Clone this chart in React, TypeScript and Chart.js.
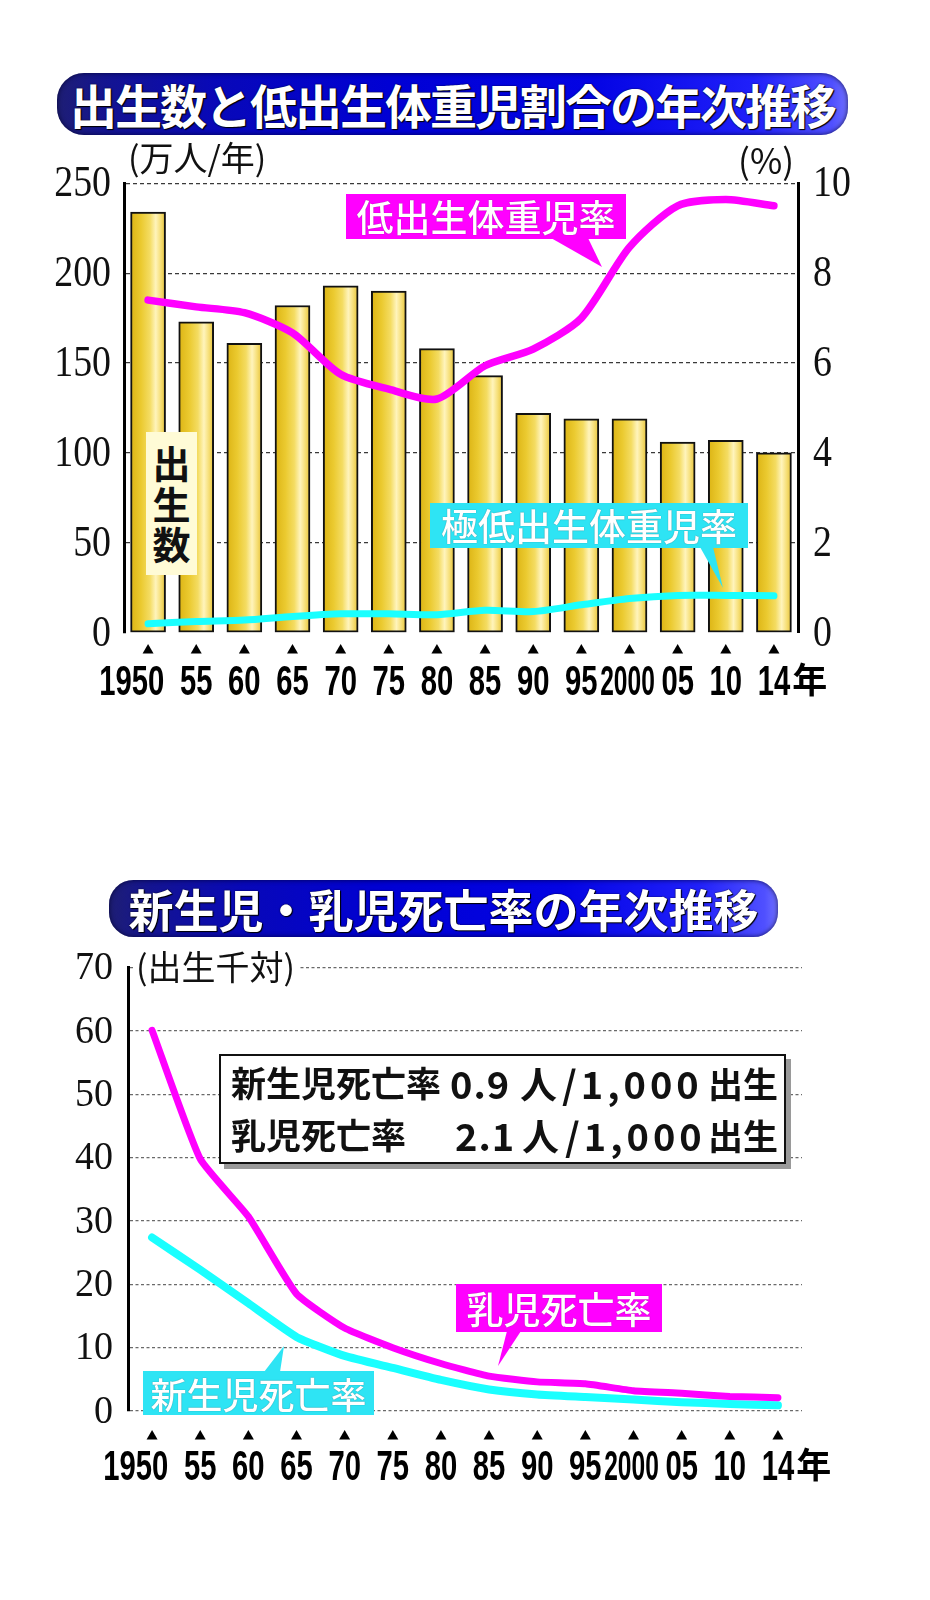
import React, { useEffect, useRef } from 'react';
import { Chart, registerables } from 'chart.js';

Chart.register(...registerables);

// ---------- data ----------
const YEAR_LABELS = ['1950', '55', '60', '65', '70', '75', '80', '85', '90', '95', '2000', '05', '10', '14'];
const YEAR_SUFFIX = '年';

// chart 1: births (10k/yr) and low birth weight rates (%)
const BIRTHS = [234, 173, 161, 182, 193, 190, 158, 143, 122, 119, 119, 106, 107, 100];
const LBW_RATE = [7.4, 7.25, 7.12, 6.67, 5.75, 5.42, 5.2, 5.94, 6.31, 7.0, 8.58, 9.5, 9.64, 9.5];
const VLBW_RATE = [0.2, 0.25, 0.28, 0.36, 0.42, 0.42, 0.4, 0.5, 0.47, 0.62, 0.76, 0.83, 0.83, 0.82];
const BIRTH_TICKS = [0, 50, 100, 150, 200, 250];
const RATE_TICKS = [0, 2, 4, 6, 8, 10];

// chart 2: neonatal / infant mortality (per 1,000 births)
const INFANT_MORTALITY = [60.1, 39.8, 30.7, 18.5, 13.1, 10.0, 7.5, 5.5, 4.6, 4.3, 3.2, 2.8, 2.3, 2.1];
const NEONATAL_MORTALITY = [27.4, 22.3, 17.0, 11.7, 8.7, 6.8, 4.9, 3.4, 2.6, 2.2, 1.8, 1.4, 1.1, 0.9];
const MORTALITY_TICKS = [0, 10, 20, 30, 40, 50, 60, 70];

// ---------- styles ----------
const CJK = '"Noto Sans CJK JP", "Noto Sans CJK SC", sans-serif';
const MAGENTA = '#ff00ff';
const CYAN_LINE = '#1affff';
const CYAN_BOX = '#2ee4f4';
const BAR_W = 35;

function drawScaledText(ctx: CanvasRenderingContext2D, text: string, x: number, y: number, sx: number, align: CanvasTextAlign) {
  ctx.save();
  ctx.translate(x, y);
  ctx.scale(sx, 1);
  ctx.textAlign = align;
  ctx.fillText(text, 0, 0);
  ctx.restore();
}

function yearLabelsPlugin(triangleY: number, labelY: number) {
  return {
    id: 'yearLabels',
    afterDraw(chart: any) {
      const ctx: CanvasRenderingContext2D = chart.ctx;
      const xs = chart.scales.x;
      const labels: string[] = chart.data.labels;
      const fs = 43;
      const sx = 0.68;
      ctx.save();
      ctx.fillStyle = '#000';
      labels.forEach((lab, i) => {
        const x = xs.getPixelForValue(i);
        ctx.beginPath();
        ctx.moveTo(x, triangleY - 5);
        ctx.lineTo(x + 5.5, triangleY + 4.5);
        ctx.lineTo(x - 5.5, triangleY + 4.5);
        ctx.closePath();
        ctx.fill();

        ctx.font = `bold ${fs}px "Liberation Sans", Arial, sans-serif`;
        ctx.textBaseline = 'alphabetic';
        const base = labelY + fs * 0.358;
        if (lab.length === 4 && i === 0) {
          const tail = lab.slice(2);
          const wTail = ctx.measureText(tail).width * sx;
          const wAll = ctx.measureText(lab).width * sx;
          drawScaledText(ctx, lab, x - wTail / 2 - (wAll - wTail), base, sx, 'left');
        } else if (lab.length === 4) {
          drawScaledText(ctx, lab, x - 2, base, 0.57, 'center');
        } else {
          drawScaledText(ctx, lab, x, base, sx, 'center');
          if (i === labels.length - 1) {
            const w = ctx.measureText(lab).width * sx;
            ctx.font = `bold 35px ${CJK}`;
            ctx.textAlign = 'left';
            ctx.fillText(YEAR_SUFFIX, x + w / 2 + 2, labelY + 13);
          }
        }
      });
      ctx.restore();
    },
  };
}

type TickSpec = { scaleId: string; ticks: number[]; x: number; align: CanvasTextAlign; fs: number; sx: number; dy: number };

function tickLabelsPlugin(specs: TickSpec[]) {
  return {
    id: 'tickLabels',
    afterDraw(chart: any) {
      const ctx: CanvasRenderingContext2D = chart.ctx;
      ctx.save();
      ctx.fillStyle = '#111';
      ctx.textBaseline = 'alphabetic';
      specs.forEach((s) => {
        const scale = chart.scales[s.scaleId];
        ctx.font = `${s.fs}px "Liberation Serif", "Times New Roman", serif`;
        s.ticks.forEach((v) => {
          const y = scale.getPixelForValue(v) + s.dy + s.fs * 0.338;
          drawScaledText(ctx, String(v), s.x, y, s.sx, s.align);
        });
      });
      ctx.restore();
    },
  };
}

function barGradient(c: any) {
  const chart = c.chart;
  if (!chart.chartArea || c.type !== 'data') return '#efcf3a';
  const x = chart.scales.x.getPixelForValue(c.dataIndex);
  const g = chart.ctx.createLinearGradient(x - BAR_W / 2, 0, x + BAR_W / 2, 0);
  g.addColorStop(0, '#dcb414');
  g.addColorStop(0.3, '#ebca30');
  g.addColorStop(0.55, '#f4dc62');
  g.addColorStop(0.72, '#fff4bc');
  g.addColorStop(0.86, '#f6df78');
  g.addColorStop(1, '#e6c236');
  return g;
}

function birthsConfig(): any {
  return {
    data: {
      labels: YEAR_LABELS,
      datasets: [
        {
          type: 'line', label: '低出生体重児率', data: LBW_RATE, yAxisID: 'y1', order: 1,
          borderColor: MAGENTA, borderWidth: 7.5, pointRadius: 0, tension: 0.25,
          borderCapStyle: 'round', borderJoinStyle: 'round', fill: false,
        },
        {
          type: 'line', label: '極低出生体重児率', data: VLBW_RATE, yAxisID: 'y1', order: 2,
          borderColor: CYAN_LINE, borderWidth: 7, pointRadius: 0, tension: 0.25,
          borderCapStyle: 'round', borderJoinStyle: 'round', fill: false,
        },
        {
          type: 'bar', label: '出生数', data: BIRTHS, yAxisID: 'y', order: 3,
          backgroundColor: barGradient, borderColor: '#111', borderWidth: 2,
          borderSkipped: false, barThickness: BAR_W,
        },
      ],
    },
    options: {
      responsive: false, animation: false, devicePixelRatio: 1, events: [],
      layout: { padding: { top: 43.3, left: 0, right: 0, bottom: 0 } },
      plugins: { legend: { display: false }, tooltip: { enabled: false } },
      scales: {
        x: {
          type: 'category', offset: true,
          grid: { display: false }, border: { display: false }, ticks: { display: false },
          afterFit(s: any) { s.height = 77.3; },
        },
        y: {
          min: 0, max: 250, position: 'left',
          ticks: { display: false, stepSize: 50 },
          grid: { color: (c: any) => (c.tick && c.tick.value === 0 ? 'rgba(0,0,0,0)' : '#3a3a3a'), lineWidth: 1.3, drawTicks: false },
          border: { display: true, width: 3, color: '#000', dash: [4, 3] },
          afterFit(s: any) { s.width = 124; },
        },
        y1: {
          min: 0, max: 10, position: 'right',
          ticks: { display: false, stepSize: 2 },
          grid: { display: false, drawTicks: false },
          border: { display: true, width: 3, color: '#000' },
          afterFit(s: any) { s.width = 132; },
        },
      },
    },
    plugins: [
      tickLabelsPlugin([
        { scaleId: 'y', ticks: BIRTH_TICKS, x: 111, align: 'right', fs: 44, sx: 0.86, dy: -2 },
        { scaleId: 'y1', ticks: RATE_TICKS, x: 813, align: 'left', fs: 44, sx: 0.86, dy: -2 },
      ]),
      yearLabelsPlugin(509, 540),
    ],
  };
}

function mortalityConfig(): any {
  return {
    type: 'line',
    data: {
      labels: YEAR_LABELS,
      datasets: [
        {
          label: '乳児死亡率', data: INFANT_MORTALITY, order: 1,
          borderColor: MAGENTA, borderWidth: 7, pointRadius: 0, tension: 0.15,
          borderCapStyle: 'round', borderJoinStyle: 'round', fill: false,
        },
        {
          label: '新生児死亡率', data: NEONATAL_MORTALITY, order: 2,
          borderColor: CYAN_LINE, borderWidth: 8, pointRadius: 0, tension: 0.15,
          borderCapStyle: 'round', borderJoinStyle: 'round', fill: false,
        },
      ],
    },
    options: {
      responsive: false, animation: false, devicePixelRatio: 1, events: [],
      layout: { padding: { top: 27.7, left: 0, right: 128, bottom: 0 } },
      plugins: { legend: { display: false }, tooltip: { enabled: false } },
      scales: {
        x: {
          type: 'category', offset: true,
          grid: { display: false }, border: { display: false }, ticks: { display: false },
          afterFit(s: any) { s.height = 89; },
        },
        y: {
          min: 0, max: 70,
          ticks: { display: false, stepSize: 10 },
          grid: { color: '#6a6a6a', lineWidth: 1.2, drawTicks: false },
          border: { display: true, width: 3, color: '#000', dash: [3, 2.5] },
          afterFit(s: any) { s.width = 128; },
        },
      },
    },
    plugins: [
      tickLabelsPlugin([
        { scaleId: 'y', ticks: MORTALITY_TICKS, x: 113, align: 'right', fs: 40, sx: 0.95, dy: -2 },
      ]),
      yearLabelsPlugin(495, 525),
    ],
  };
}

function ChartCanvas({ makeConfig, top, height }: { makeConfig: () => any; top: number; height: number }) {
  const ref = useRef<HTMLCanvasElement | null>(null);
  useEffect(() => {
    if (!ref.current) return;
    const chart = new Chart(ref.current, makeConfig());
    return () => chart.destroy();
  }, []);
  return (
    <canvas
      ref={ref}
      width={930}
      height={height}
      style={{ position: 'absolute', left: 0, top, width: 930, height }}
    />
  );
}

const abs = (left: number, top: number, extra: React.CSSProperties = {}): React.CSSProperties => ({
  position: 'absolute', left, top, ...extra,
});

const titleBg =
  'linear-gradient(90deg, #1e1e74 0%, #141490 6%, #0808b8 20%, #0000d4 42%, #0404e4 68%, #2020fa 88%, #5050ff 98%, #7070ff 100%)';

function TitleBar({ left, top, width, height, fs, spacing, text }: { left: number; top: number; width: number; height: number; fs: number; spacing: number; text: string }) {
  return (
    <div
      style={abs(left, top, {
        width, height, borderRadius: height / 2 - 4, background: titleBg,
        boxShadow: 'inset 0 0 5px rgba(0,0,40,0.8)',
        color: '#fff', fontFamily: CJK, fontWeight: 700, fontSize: fs, letterSpacing: spacing,
        lineHeight: `${height}px`, textAlign: 'center', whiteSpace: 'nowrap',
        textShadow: '0 0 1.5px #000, 1px 1px 1px #000',
      })}
    >
      {text}
    </div>
  );
}

function LabelBox({ left, top, width, height, fs, bg, text }: { left: number; top: number; width: number; height: number; fs: number; bg: string; text: string }) {
  return (
    <div
      style={abs(left, top, {
        width, height, background: bg, color: '#fff', fontFamily: CJK, fontWeight: 500,
        fontSize: fs, lineHeight: `${height}px`, textAlign: 'center', whiteSpace: 'nowrap',
        textShadow: '0 0 1px rgba(0,0,0,0.5)',
      })}
    >
      {text}
    </div>
  );
}

export default function App() {
  const infoText: React.CSSProperties = { fontFamily: CJK, fontWeight: 700, color: '#111', whiteSpace: 'nowrap', lineHeight: 1 };
  return (
    <div style={{ position: 'absolute', left: 0, top: 0, width: 930, height: 1600, background: '#fff', overflow: 'hidden' }}>
      <ChartCanvas makeConfig={birthsConfig} top={140} height={570} />
      <ChartCanvas makeConfig={mortalityConfig} top={940} height={560} />

      <TitleBar left={57} top={73} width={791} height={62} fs={47} spacing={-2} text="出生数と低出生体重児割合の年次推移" />
      <TitleBar left={109} top={880} width={669} height={57} fs={45} spacing={0} text="新生児・乳児死亡率の年次推移" />

      <div style={abs(128, 140, { fontFamily: CJK, fontSize: 34, lineHeight: 1, color: '#111', whiteSpace: 'nowrap' })}>(万人/年)</div>
      <div style={{ position: 'absolute', right: 136, top: 141, fontFamily: CJK, fontSize: 35, lineHeight: 1, color: '#111' }}>(%)</div>
      <div style={abs(134, 949, { fontFamily: CJK, fontSize: 34, lineHeight: 1, color: '#111', whiteSpace: 'nowrap', background: '#fff', padding: '0 4px 0 2px' })}>(出生千対)</div>

      <svg width={930} height={1600} style={{ position: 'absolute', left: 0, top: 0, pointerEvents: 'none' }}>
        <polygon points="551,238 588,238 602,267" fill={MAGENTA} />
        <polygon points="700,547 713,547 723,588" fill={CYAN_BOX} />
        <polygon points="507,1331 521,1331 498,1366" fill={MAGENTA} />
        <polygon points="264,1372 280,1372 284,1346" fill={CYAN_BOX} />
      </svg>

      <LabelBox left={346} top={194} width={280} height={45} fs={37} bg={MAGENTA} text="低出生体重児率" />
      <LabelBox left={430} top={503} width={318} height={45} fs={37} bg={CYAN_BOX} text="極低出生体重児率" />
      <LabelBox left={456} top={1284} width={206} height={48} fs={37} bg={MAGENTA} text="乳児死亡率" />
      <LabelBox left={143} top={1371} width={231} height={44} fs={36} bg={CYAN_BOX} text="新生児死亡率" />

      <div
        style={abs(146, 432, {
          width: 51, height: 143, background: '#fffbd6', fontFamily: CJK, fontWeight: 700,
          fontSize: 38, lineHeight: '40.5px', textAlign: 'center', color: '#111', paddingTop: 10, boxSizing: 'border-box',
        })}
      >
        出<br />生<br />数
      </div>

      <div
        style={abs(219, 1054, {
          width: 567, height: 110, boxSizing: 'border-box', border: '2.5px solid #111',
          background: '#fff', boxShadow: '5px 5px 0 #9a9a9a',
        })}
      />
      <div style={abs(231, 1064, { ...infoText, fontSize: 35 })}>新生児死亡率</div>
      <div style={abs(450, 1064, { ...infoText, fontSize: 38, letterSpacing: 1 })}>0.9</div>
      <div style={abs(520, 1065, { ...infoText, fontSize: 37 })}>人</div>
      <div style={abs(562, 1064, { ...infoText, fontSize: 38, letterSpacing: 4 })}>/1,000</div>
      <div style={abs(708, 1065, { ...infoText, fontSize: 35 })}>出生</div>

      <div style={abs(231, 1116, { ...infoText, fontSize: 35 })}>乳児死亡率</div>
      <div style={abs(455, 1116, { ...infoText, fontSize: 38, letterSpacing: 1 })}>2.1</div>
      <div style={abs(522, 1117, { ...infoText, fontSize: 37 })}>人</div>
      <div style={abs(565, 1116, { ...infoText, fontSize: 38, letterSpacing: 4 })}>/1,000</div>
      <div style={abs(708, 1117, { ...infoText, fontSize: 35 })}>出生</div>
    </div>
  );
}
